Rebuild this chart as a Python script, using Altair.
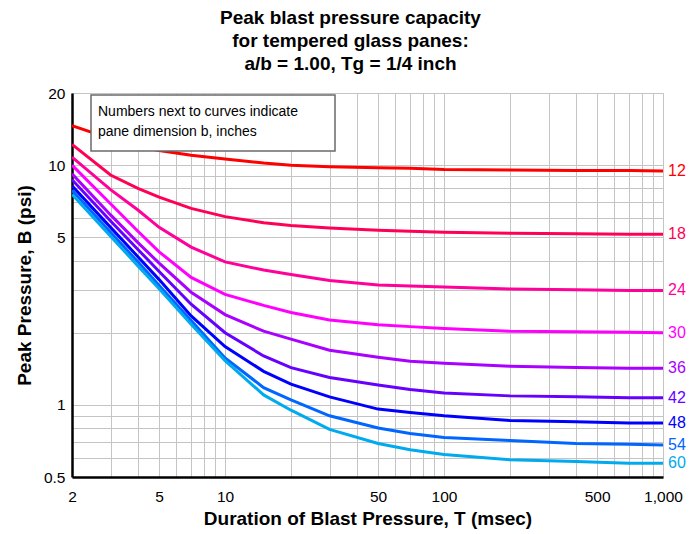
import altair as alt
import pandas as pd

# ---- data ----
durations = [2, 3, 4, 5, 7, 10, 15, 20, 30, 50, 70, 100, 200, 400, 700, 1000]
b12 = [14.6, 12.9, 12.0, 11.5, 11.0, 10.6, 10.2, 10.0, 9.85, 9.75, 9.7, 9.6, 9.55, 9.5, 9.5, 9.45]
b18 = [12.2, 9.1, 8.0, 7.35, 6.6, 6.1, 5.75, 5.6, 5.47, 5.35, 5.3, 5.25, 5.2, 5.18, 5.15, 5.15]
b24 = [10.8, 7.9, 6.5, 5.5, 4.55, 3.95, 3.65, 3.5, 3.3, 3.16, 3.13, 3.1, 3.04, 3.02, 3.0, 3.0]
b30 = [10.0, 6.9, 5.3, 4.35, 3.4, 2.89, 2.6, 2.43, 2.26, 2.16, 2.12, 2.08, 2.03, 2.02, 2.01, 2.0]
b36 = [9.2, 6.2, 4.75, 3.9, 2.95, 2.38, 2.03, 1.88, 1.69, 1.58, 1.52, 1.49, 1.45, 1.43, 1.42, 1.42]
b42 = [8.7, 5.85, 4.45, 3.6, 2.63, 2.0, 1.6, 1.43, 1.3, 1.21, 1.16, 1.12, 1.09, 1.08, 1.07, 1.07]
b48 = [8.2, 5.5, 4.15, 3.33, 2.35, 1.75, 1.38, 1.22, 1.08, 0.96, 0.93, 0.9, 0.86, 0.85, 0.84, 0.84]
b54 = [7.85, 5.25, 3.95, 3.15, 2.25, 1.57, 1.18, 1.05, 0.9, 0.8, 0.76, 0.73, 0.71, 0.69, 0.685, 0.68]
b60 = [7.55, 5.05, 3.8, 3.05, 2.17, 1.53, 1.1, 0.95, 0.79, 0.69, 0.65, 0.62, 0.59, 0.58, 0.57, 0.57]

pane_b = ["12", "18", "24", "30", "36", "42", "48", "54", "60"]
series = [b12, b18, b24, b30, b36, b42, b48, b54, b60]
colors = ["#ff0000", "#ff0055", "#ff0099", "#ff00ff", "#aa00ff",
          "#6600ff", "#0000ff", "#0066ff", "#00aaee"]

x_grid = [2, 3, 4, 5, 6, 7, 8, 9, 10, 20, 30, 40, 50, 60, 70, 80, 90,
          100, 200, 300, 400, 500, 600, 700, 800, 900, 1000]
x_labels = [2, 5, 10, 50, 100, 500, 1000]
y_grid = [0.5, 0.6, 0.7, 0.8, 0.9, 1, 2, 3, 4, 5, 6, 7, 8, 9, 10, 20]
y_labels = [0.5, 1, 5, 10, 20]

rows = []
for b, vals in zip(pane_b, series):
    for t, v in zip(durations, vals):
        rows.append({"T": t, "P": v, "b": b})
df = pd.DataFrame(rows)
ends = df[df["T"] == durations[-1]].copy()

FONT = "Liberation Sans, Arial"

xscale = alt.Scale(type="log", domain=[2, 1000], nice=False)
yscale = alt.Scale(type="log", domain=[0.5, 20], nice=False)
cscale = alt.Scale(domain=pane_b, range=colors)

xaxis = alt.Axis(
    values=x_grid,
    labelExpr="indexof(%s, datum.value) >= 0 ? format(datum.value, ',') : ''" % str(x_labels),
    title="Duration of Blast Pressure, T (msec)",
    titleFont=FONT, titleFontSize=19, titleFontWeight="bold", titleColor="black",
    titlePadding=5,
    labelFont=FONT, labelFontSize=15.5, labelColor="black", labelPadding=12,
    labelFlush=False, labelOverlap=False,
    ticks=False, domainColor="black", domainWidth=2.5,
    gridColor="#c4c4c4", gridWidth=1,
)
yaxis = alt.Axis(
    values=y_grid,
    labelExpr="indexof(%s, datum.value) >= 0 ? format(datum.value, ',') : ''" % str(y_labels),
    title="Peak Pressure, B (psi)",
    titleFont=FONT, titleFontSize=19, titleFontWeight="bold", titleColor="black",
    titlePadding=9,
    labelFont=FONT, labelFontSize=15.5, labelColor="black", labelPadding=7,
    labelFlush=False, labelOverlap=False,
    ticks=False, domainColor="black", domainWidth=2.5,
    gridColor="#c4c4c4", gridWidth=1,
)

lines = alt.Chart(df).mark_line(strokeWidth=3, clip=True).encode(
    x=alt.X("T:Q", scale=xscale, axis=xaxis),
    y=alt.Y("P:Q", scale=yscale, axis=yaxis),
    color=alt.Color("b:N", scale=cscale, legend=None),
    order=alt.Order("T:Q"),
)

labels = alt.Chart(ends).mark_text(
    align="left", baseline="middle", dx=5, font=FONT, fontSize=16
).encode(
    x=alt.X("T:Q", scale=xscale),
    y=alt.Y("P:Q", scale=yscale),
    text="b:N",
    color=alt.Color("b:N", scale=cscale, legend=None),
)

note_df = pd.DataFrame({"note": ["x"]})
box = alt.Chart(note_df).mark_rect(
    fill="white", stroke="#6a6a6a", strokeWidth=1.5
).encode(
    x=alt.value(19), x2=alt.value(263), y=alt.value(2), y2=alt.value(58)
)
note = alt.Chart(note_df).mark_text(
    align="left", baseline="top", font=FONT, fontSize=14, lineHeight=20,
    color="black"
).encode(
    x=alt.value(26), y=alt.value(12),
    text=alt.value(["Numbers next to curves indicate", "pane dimension b, inches"]),
)

chart = alt.layer(lines, labels, box, note).properties(
    width=591,
    height=384,
    autosize=alt.AutoSizeParams(type="none"),
    padding={"left": 72, "top": 93, "right": 36, "bottom": 57},
    title=alt.TitleParams(
        text=["Peak blast pressure capacity", "for tempered glass panes:",
              "a/b = 1.00, Tg = 1/4 inch"],
        font=FONT, fontSize=19, fontWeight="bold", color="black",
        anchor="middle", lineHeight=23, offset=12, dx=-17,
    ),
).configure_view(
    stroke="#333333", strokeWidth=1.5
).configure(background="white")

chart.save("out.html", embed_options={"renderer": "svg", "actions": False})
